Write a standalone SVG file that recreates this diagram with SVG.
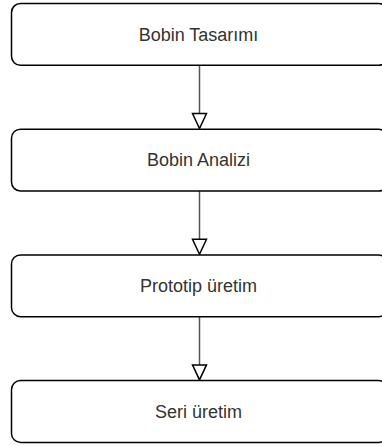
<svg xmlns="http://www.w3.org/2000/svg" width="382" height="446" viewBox="0 0 382 446">
<style>
.box{fill:#fff;stroke:#000;stroke-width:1.5}
.lbl{font-family:"Liberation Sans",Arial,sans-serif;font-size:18px;fill:#333;text-anchor:middle}
.edge{stroke:#555;stroke-width:1.5;fill:none}
.head{fill:#fff;stroke:#000;stroke-width:1.5;stroke-linejoin:miter}
</style>
<rect width="382" height="446" fill="#fff"/>
<g id="connectors">
<path class="edge" d="M199.5 65.3V113.5"/>
<path class="head" d="M192.5 113.5H206.5L199.5 128.5Z"/>
<path class="edge" d="M199.5 191V239.2"/>
<path class="head" d="M192.5 239.2H206.5L199.5 254.2Z"/>
<path class="edge" d="M199.5 316.7V364.9"/>
<path class="head" d="M192.5 364.9H206.5L199.5 379.9Z"/>
</g>
<g id="n1">
<rect class="box" x="11.5" y="3.5" width="376" height="61.8" rx="9"/>
<text class="lbl" x="198.5" y="40.7">Bobin Tasarımı</text>
</g>
<g id="n2">
<rect class="box" x="11.5" y="129.2" width="376" height="61.8" rx="9"/>
<text class="lbl" x="198.5" y="166.4">Bobin Analizi</text>
</g>
<g id="n3">
<rect class="box" x="11.5" y="254.9" width="376" height="61.8" rx="9"/>
<text class="lbl" x="198.5" y="292.1">Prototip üretim</text>
</g>
<g id="n4">
<rect class="box" x="11.5" y="380.6" width="376" height="61.8" rx="9"/>
<text class="lbl" x="198.5" y="417.8">Seri üretim</text>
</g>
</svg>
